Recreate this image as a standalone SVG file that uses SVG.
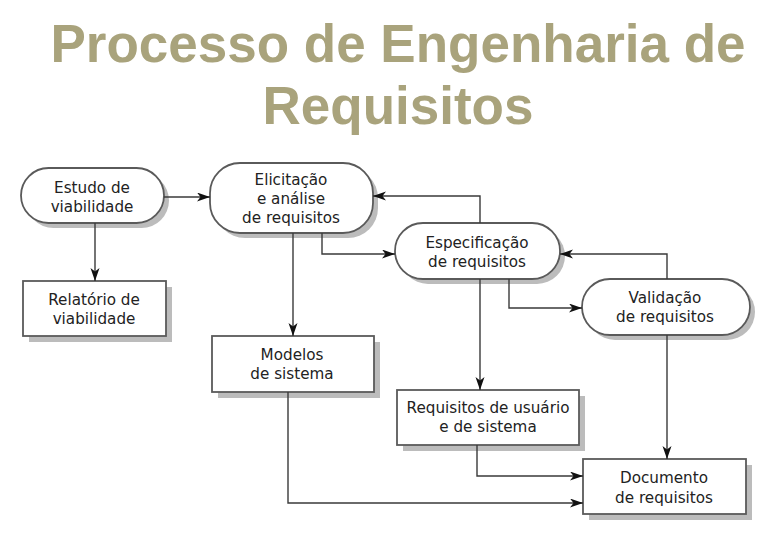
<svg xmlns="http://www.w3.org/2000/svg" width="765" height="545" viewBox="0 0 765 545">
<style>
.title{font-family:"Liberation Sans",Arial,sans-serif;font-weight:bold;font-size:53px;fill:#a9a37c;text-anchor:middle}
.lbl{font-family:"DejaVu Sans","Noto Sans",sans-serif;font-size:15.2px;fill:#222;text-anchor:middle}
.shadow{fill:#bcbcbc;stroke:none}
.shape{fill:#fff;stroke:#5a5a5a;stroke-width:1.8}
.conn{fill:none;stroke:#3a3a3a;stroke-width:1.4;marker-end:url(#arr)}
</style>
<defs>
<marker id="arr" markerUnits="userSpaceOnUse" markerWidth="14" markerHeight="10" refX="13" refY="4.5" orient="auto">
<path d="M0,0 L13,4.5 L0,9 L3.5,4.5 z" fill="#111"/>
</marker>
</defs>
<rect width="765" height="545" fill="#fff"/>
<g id="title">
<text class="title" x="398" y="62">Processo de Engenharia de</text>
<text class="title" x="398" y="124">Requisitos</text>
</g>
<g id="estudo">
<rect class="shadow" x="26" y="173" width="143" height="55" rx="27.5"/>
<rect class="shape" x="21" y="168" width="143" height="55" rx="27.5"/>
<text class="lbl" x="92" y="193">Estudo de</text>
<text class="lbl" x="92" y="212">viabilidade</text>
</g>
<g id="relatorio">
<rect class="shadow" x="29" y="287" width="143" height="55"/>
<rect class="shape" x="23" y="281" width="143" height="55"/>
<text class="lbl" x="94" y="305">Relatório de</text>
<text class="lbl" x="94" y="324">viabilidade</text>
</g>
<g id="elicitacao">
<rect class="shadow" x="215" y="168" width="163" height="70" rx="30"/>
<rect class="shape" x="210" y="163" width="163" height="70" rx="30"/>
<text class="lbl" x="291" y="185">Elicitação</text>
<text class="lbl" x="291" y="204">e análise</text>
<text class="lbl" x="291" y="223">de requisitos</text>
</g>
<g id="especificacao">
<rect class="shadow" x="400" y="228" width="165" height="56" rx="28"/>
<rect class="shape" x="395" y="223" width="165" height="56" rx="28"/>
<text class="lbl" x="477" y="248">Especificação</text>
<text class="lbl" x="477" y="267">de requisitos</text>
</g>
<g id="validacao">
<rect class="shadow" x="587" y="284" width="168" height="56" rx="28"/>
<rect class="shape" x="582" y="279" width="168" height="56" rx="28"/>
<text class="lbl" x="665" y="303">Validação</text>
<text class="lbl" x="665" y="322">de requisitos</text>
</g>
<g id="modelos">
<rect class="shadow" x="218" y="342" width="162" height="56"/>
<rect class="shape" x="212" y="336" width="162" height="56"/>
<text class="lbl" x="292" y="360">Modelos</text>
<text class="lbl" x="292" y="379">de sistema</text>
</g>
<g id="requisitos">
<rect class="shadow" x="403" y="396" width="182" height="55"/>
<rect class="shape" x="397" y="390" width="182" height="55"/>
<text class="lbl" x="488" y="413">Requisitos de usuário</text>
<text class="lbl" x="488" y="432">e de sistema</text>
</g>
<g id="documento">
<rect class="shadow" x="589" y="465" width="163" height="55"/>
<rect class="shape" x="583" y="459" width="163" height="55"/>
<text class="lbl" x="664" y="483">Documento</text>
<text class="lbl" x="664" y="503">de requisitos</text>
</g>
<g id="connectors">
<path class="conn" d="M164,197 H210"/>
<path class="conn" d="M95,223 V281"/>
<path class="conn" d="M293,233 V336"/>
<path class="conn" d="M322,233 V254 H395"/>
<path class="conn" d="M480,223 V196 H373"/>
<path class="conn" d="M667,279 V254 H560"/>
<path class="conn" d="M509,279 V308 H582"/>
<path class="conn" d="M480,279 V390"/>
<path class="conn" d="M667,335 V459"/>
<path class="conn" d="M477,445 V476 H583"/>
<path class="conn" d="M288,392 V503 H583"/>
</g>
</svg>
